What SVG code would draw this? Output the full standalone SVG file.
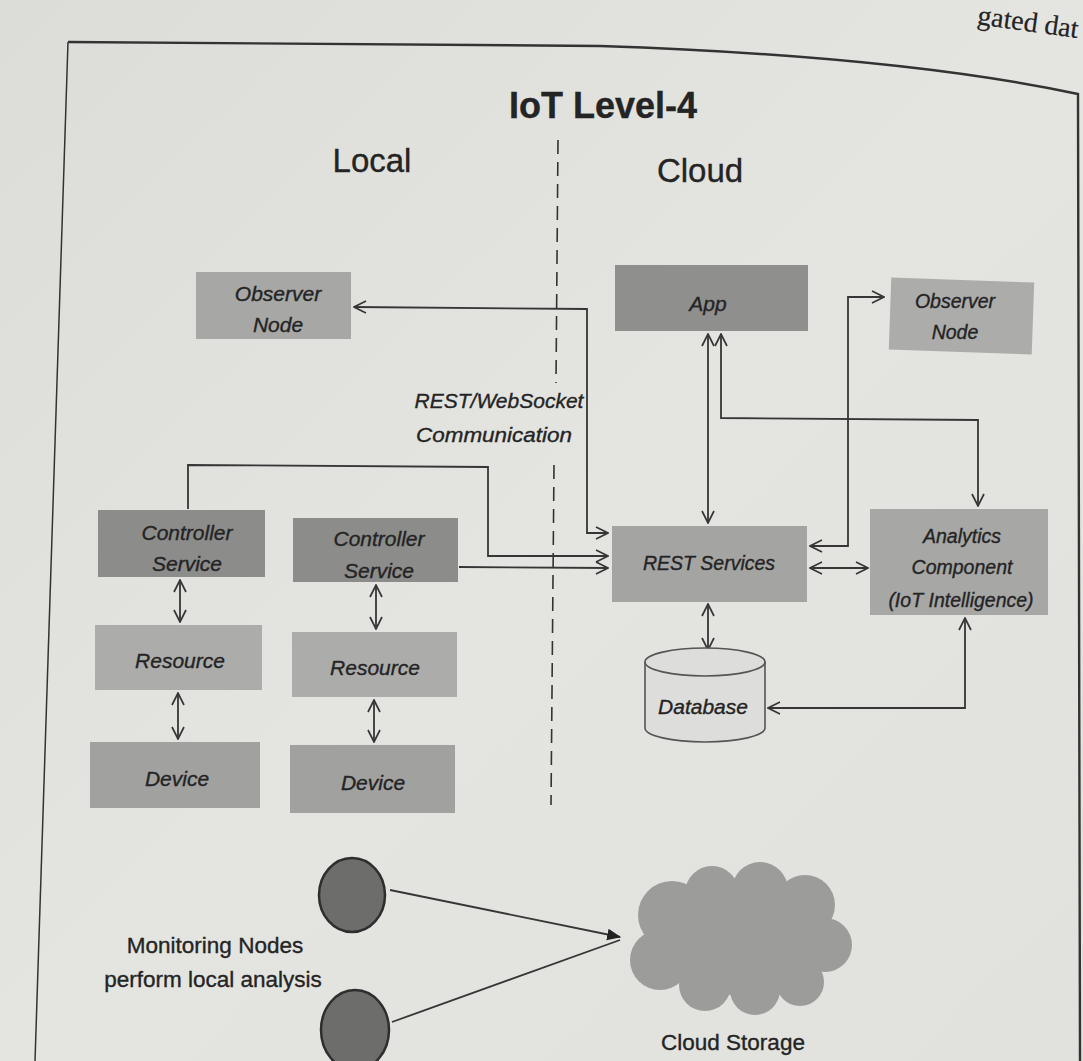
<svg xmlns="http://www.w3.org/2000/svg" width="1083" height="1061" viewBox="0 0 1083 1061">
<style>
text{font-family:"Liberation Sans",Arial,sans-serif;fill:#242424;stroke:#242424;stroke-width:0.35}
.lbl{font-style:italic;font-size:21px;text-anchor:middle}
.sm{font-size:19.5px}
.box{stroke:none}
.c{fill:none;stroke:#363636;stroke-width:1.8}
.da{marker-start:url(#a);marker-end:url(#a)}
.ea{marker-end:url(#a)}
</style>
<defs>
<marker id="a" viewBox="0 0 14 14" refX="13" refY="7" markerWidth="14" markerHeight="14" markerUnits="userSpaceOnUse" orient="auto-start-reverse">
<path d="M1,1 L13,7 L1,13" fill="none" stroke="#363636" stroke-width="1.7"/>
</marker>
<marker id="f" viewBox="0 0 12 12" refX="11" refY="6" markerWidth="14" markerHeight="14" markerUnits="userSpaceOnUse" orient="auto">
<path d="M0,1 L12,6 L0,11 Z" fill="#222"/>
</marker>
<linearGradient id="bg" x1="0" y1="0" x2="1" y2="1">
<stop offset="0" stop-color="#dcdcd8"/>
<stop offset="0.5" stop-color="#e4e4e1"/>
<stop offset="1" stop-color="#e1e1de"/>
</linearGradient>
</defs>
<rect width="1083" height="1061" fill="url(#bg)"/>
<text x="1079" y="30" font-size="28" text-anchor="end" transform="rotate(8 1020 22)" style="font-family:'Liberation Serif',serif;stroke-width:0.2">gated dat</text>
<path d="M68,42 L600,46 Q900,56 1078,94 L1080,1061" fill="none" stroke="#333" stroke-width="2.4"/>
<path d="M68,42 L35,1061" fill="none" stroke="#333" stroke-width="1.5"/>

<text x="603" y="118" font-size="36" font-weight="bold" text-anchor="middle">IoT Level-4</text>
<text x="372" y="172" font-size="33" text-anchor="middle">Local</text>
<text x="700" y="182" font-size="33" text-anchor="middle">Cloud</text>
<path d="M558,140 L556,383 M554,465 L551,805" fill="none" stroke="#333" stroke-width="1.6" stroke-dasharray="14 8"/>

<g id="connectors">
<path class="c da" d="M354,307 L587,309 L587,533 L608,533"/>
<path class="c ea" d="M188,509 L188,465 L488,467 L488,556 L608,556"/>
<path class="c ea" d="M459,567 L608,568"/>
<path class="c da" d="M708,334 L708,523"/>
<path class="c da" d="M721,334 L721,418 L978,420 L978,506"/>
<path class="c da" d="M810,546 L848,546 L848,297 L884,297"/>
<path class="c da" d="M810,568 L868,568"/>
<path class="c da" d="M708,604 L708,650"/>
<path class="c da" d="M965,618 L965,708 L768,708"/>
<path class="c da" d="M180,580 L180,622"/>
<path class="c da" d="M178,693 L178,739"/>
<path class="c da" d="M376,585 L376,629"/>
<path class="c da" d="M374,700 L374,742"/>
<path class="c" d="M390,890 L620,937" marker-end="url(#f)"/>
<path class="c" d="M392,1022 L620,940"/>
</g>

<g id="observer-local"><rect class="box" x="196" y="272" width="155" height="67" fill="#a7a7a5"/><text class="lbl" x="278" y="301">Observer</text><text class="lbl" x="278" y="332">Node</text></g>
<g id="app"><rect class="box" x="615" y="265" width="193" height="66" fill="#8f8f8e"/><text class="lbl" x="708" y="311">App</text></g>
<g id="observer-cloud"><rect class="box" x="890" y="280" width="143" height="72" fill="#acacab" transform="rotate(2 961 316)"/><text class="lbl sm" x="955" y="308">Observer</text><text class="lbl sm" x="955" y="339">Node</text></g>
<g id="ws-label"><text class="lbl" x="499" y="408">REST/WebSocket</text><text class="lbl" x="494" y="442" textLength="156" lengthAdjust="spacingAndGlyphs">Communication</text></g>
<g id="controller1"><rect class="box" x="98" y="510" width="167" height="67" fill="#8c8c8b"/><text class="lbl" x="187" y="540" font-size="22.5">Controller</text><text class="lbl" x="187" y="571" font-size="22.5">Service</text></g>
<g id="controller2"><rect class="box" x="293" y="518" width="165" height="64" fill="#8c8c8b"/><text class="lbl" x="379" y="546" font-size="22.5">Controller</text><text class="lbl" x="379" y="578" font-size="22.5">Service</text></g>
<g id="resource1"><rect class="box" x="95" y="625" width="167" height="65" fill="#acacab"/><text class="lbl" x="180" y="668">Resource</text></g>
<g id="resource2"><rect class="box" x="292" y="632" width="165" height="65" fill="#acacab"/><text class="lbl" x="375" y="675">Resource</text></g>
<g id="device1"><rect class="box" x="90" y="742" width="170" height="66" fill="#a1a1a0"/><text class="lbl" x="177" y="786">Device</text></g>
<g id="device2"><rect class="box" x="290" y="745" width="165" height="68" fill="#a1a1a0"/><text class="lbl" x="373" y="790">Device</text></g>
<g id="rest"><rect class="box" x="612" y="526" width="195" height="76" fill="#a4a4a3"/><text class="lbl sm" x="709" y="570">REST Services</text></g>
<g id="analytics"><rect class="box" x="870" y="509" width="178" height="106" fill="#a7a7a6"/><text class="lbl sm" x="962" y="543">Analytics</text><text class="lbl sm" x="962" y="574">Component</text><text class="lbl sm" x="961" y="607">(IoT Intelligence)</text></g>
<g id="database"><path d="M645,662 L645,728 A60,14 0 0 0 765,728 L765,662" fill="#dddddb" stroke="#555" stroke-width="1.6"/><ellipse cx="705" cy="662" rx="60" ry="14" fill="#dddddb" stroke="#555" stroke-width="1.6"/><text class="lbl" x="703" y="714">Database</text></g>

<g id="monitor1"><ellipse cx="352" cy="895" rx="33" ry="37" fill="#6d6d6c" stroke="#2e2e2e" stroke-width="2.5"/></g>
<g id="monitor2"><ellipse cx="355" cy="1030" rx="34" ry="40" fill="#6d6d6c" stroke="#2e2e2e" stroke-width="2.5"/></g>
<text x="215" y="953" font-size="22.5" text-anchor="middle">Monitoring Nodes</text>
<text x="213" y="987" font-size="22.5" text-anchor="middle">perform local analysis</text>
<g id="cloud" fill="#9c9c9b">
<circle cx="672" cy="915" r="34"/><circle cx="712" cy="893" r="27"/><circle cx="760" cy="890" r="28"/><circle cx="805" cy="905" r="30"/>
<circle cx="825" cy="945" r="27"/><circle cx="800" cy="982" r="24"/><circle cx="755" cy="990" r="25"/><circle cx="705" cy="985" r="26"/>
<circle cx="660" cy="960" r="30"/><ellipse cx="738" cy="940" rx="80" ry="55"/>
</g>
<text x="733" y="1050" font-size="22.5" text-anchor="middle">Cloud Storage</text>
</svg>
